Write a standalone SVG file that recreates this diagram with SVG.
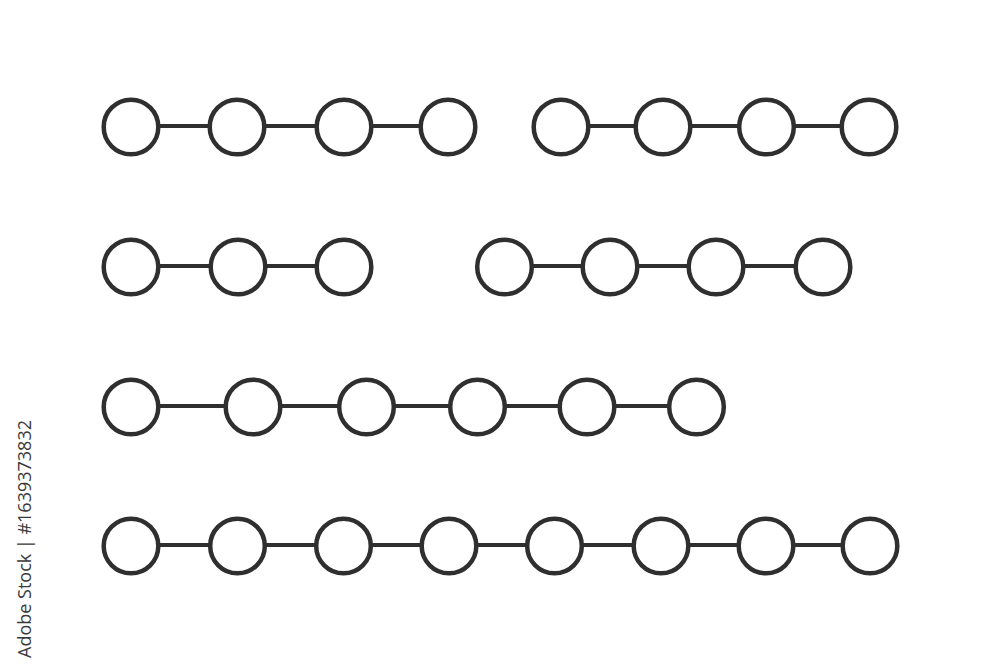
<svg xmlns="http://www.w3.org/2000/svg" width="1000" height="667" viewBox="0 0 1000 667">
<style>
.n{fill:#ffffff;stroke:#2f2f2f;stroke-width:4.5}
.c{stroke:#2f2f2f;stroke-width:4;fill:none}
.t{font-family:"Open Sans","Liberation Sans",sans-serif;font-size:18px;fill:#3a3a3a}
</style>
<rect width="1000" height="667" fill="#ffffff"/>
<g id="connectors">
<line class="c" x1="131" y1="126" x2="448" y2="126"/>
<line class="c" x1="561" y1="126" x2="869" y2="126"/>
<line class="c" x1="131" y1="266" x2="344" y2="266"/>
<line class="c" x1="504" y1="266" x2="823" y2="266"/>
<line class="c" x1="131" y1="406" x2="697" y2="406"/>
<line class="c" x1="131" y1="545" x2="870" y2="545"/>
</g>
<g id="row1a">
<circle id="n1" class="n" cx="131" cy="127" r="27.3"/>
<circle id="n2" class="n" cx="237" cy="127" r="27.3"/>
<circle id="n3" class="n" cx="344" cy="127" r="27.3"/>
<circle id="n4" class="n" cx="448" cy="127" r="27.3"/>
</g>
<g id="row1b">
<circle id="n5" class="n" cx="561" cy="127" r="27.3"/>
<circle id="n6" class="n" cx="663" cy="127" r="27.3"/>
<circle id="n7" class="n" cx="766.5" cy="127" r="27.3"/>
<circle id="n8" class="n" cx="869" cy="127" r="27.3"/>
</g>
<g id="row2a">
<circle id="n9" class="n" cx="131" cy="267" r="27.3"/>
<circle id="n10" class="n" cx="238" cy="267" r="27.3"/>
<circle id="n11" class="n" cx="344" cy="267" r="27.3"/>
</g>
<g id="row2b">
<circle id="n12" class="n" cx="504.5" cy="267" r="27.3"/>
<circle id="n13" class="n" cx="610" cy="267" r="27.3"/>
<circle id="n14" class="n" cx="716" cy="267" r="27.3"/>
<circle id="n15" class="n" cx="823" cy="267" r="27.3"/>
</g>
<g id="row3">
<circle id="n16" class="n" cx="131" cy="407" r="27.3"/>
<circle id="n17" class="n" cx="253" cy="407" r="27.3"/>
<circle id="n18" class="n" cx="366.5" cy="407" r="27.3"/>
<circle id="n19" class="n" cx="477.5" cy="407" r="27.3"/>
<circle id="n20" class="n" cx="587" cy="407" r="27.3"/>
<circle id="n21" class="n" cx="696.5" cy="407" r="27.3"/>
</g>
<g id="row4">
<circle id="n22" class="n" cx="131" cy="546" r="27.3"/>
<circle id="n23" class="n" cx="237.5" cy="546" r="27.3"/>
<circle id="n24" class="n" cx="343.5" cy="546" r="27.3"/>
<circle id="n25" class="n" cx="449" cy="546" r="27.3"/>
<circle id="n26" class="n" cx="554.5" cy="546" r="27.3"/>
<circle id="n27" class="n" cx="661" cy="546" r="27.3"/>
<circle id="n28" class="n" cx="766" cy="546" r="27.3"/>
<circle id="n29" class="n" cx="870" cy="546" r="27.3"/>
</g>
<text class="t" transform="translate(31,420) rotate(-90)" text-anchor="end">Adobe Stock | #1639373832</text>
</svg>
